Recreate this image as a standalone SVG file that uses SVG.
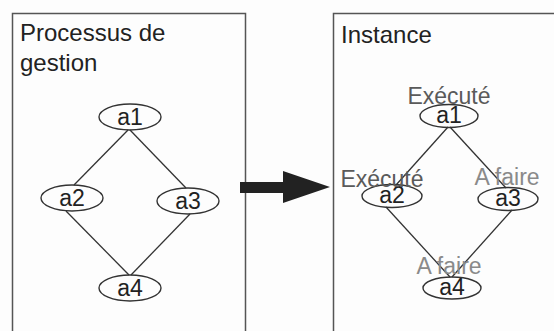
<svg xmlns="http://www.w3.org/2000/svg" width="554" height="331" viewBox="0 0 554 331">
<style>
.box{fill:none;stroke:#555;stroke-width:1.5}
.node{fill:none;stroke:#333;stroke-width:1.4}
.edge{stroke:#333;stroke-width:1.3;fill:none}
.t{font-family:"Liberation Sans",Arial,sans-serif;fill:#222}
.title{font-size:24px}
.lbl{font-size:23px;text-anchor:middle}
.st{font-size:23px;text-anchor:middle}
.exe{fill:#5a5a5a}
.todo{fill:#8a8a8a}
</style>
<rect width="554" height="331" fill="#fdfdfd"/>
<g id="box-processus">
<path class="box" d="M12.5,340 V13.5 H245.5 V340"/>
<text class="t title" x="20" y="41">Processus de</text>
<text class="t title" x="20" y="71">gestion</text>
</g>
<g id="box-instance">
<path class="box" d="M333.5,340 V13.5 H560"/>
<text class="t title" x="341" y="43">Instance</text>
</g>
<g id="connectors">
<line class="edge" x1="128" y1="130" x2="74" y2="185"/>
<line class="edge" x1="130" y1="130" x2="186" y2="188"/>
<line class="edge" x1="66" y1="211" x2="129" y2="275"/>
<line class="edge" x1="190" y1="214" x2="131" y2="275"/>
<line class="edge" x1="448" y1="127" x2="396" y2="185"/>
<line class="edge" x1="450" y1="127" x2="506" y2="188"/>
<line class="edge" x1="386" y1="207" x2="450" y2="277"/>
<line class="edge" x1="512" y1="210" x2="452" y2="277"/>
<path id="big-arrow" d="M240,182 H283 V171 L330,187 L283,203 V193 H240 Z" fill="#222"/>
</g>
<g id="p-a1"><ellipse class="node" cx="130" cy="117" rx="31" ry="13"/><text class="t lbl" x="130" y="125">a1</text></g>
<g id="p-a2"><ellipse class="node" cx="72" cy="198" rx="31" ry="13"/><text class="t lbl" x="72" y="206">a2</text></g>
<g id="p-a3"><ellipse class="node" cx="188" cy="201" rx="31" ry="13"/><text class="t lbl" x="188" y="209">a3</text></g>
<g id="p-a4"><ellipse class="node" cx="130" cy="288" rx="31" ry="13"/><text class="t lbl" x="130" y="296">a4</text></g>
<g id="i-a1"><ellipse class="node" cx="449" cy="116" rx="29" ry="11.5"/><text class="t lbl" x="449" y="123">a1</text><text class="t st exe" x="449" y="104">Exécuté</text></g>
<g id="i-a2"><ellipse class="node" cx="392" cy="196" rx="30" ry="11.5"/><text class="t lbl" x="392" y="203">a2</text><text class="t st exe" x="382" y="187">Exécuté</text></g>
<g id="i-a3"><ellipse class="node" cx="508" cy="199" rx="30" ry="11.5"/><text class="t lbl" x="508" y="206">a3</text><text class="t st todo" x="507" y="185">A faire</text></g>
<g id="i-a4"><ellipse class="node" cx="452" cy="288" rx="29" ry="11"/><text class="t lbl" x="452" y="295">a4</text><text class="t st todo" x="449" y="274">A faire</text></g>
</svg>
